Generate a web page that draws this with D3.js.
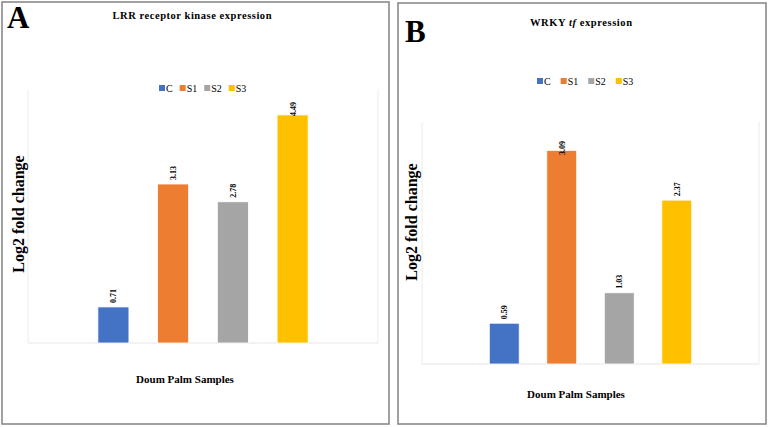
<!DOCTYPE html>
<html>
<head>
<meta charset="utf-8">
<script src="https://cdn.jsdelivr.net/npm/d3@7"></script>
<style>
  body { margin: 0; background: #fff; }
  svg { display: block; }
  text { font-family: "Times New Roman", Times, "Liberation Serif", serif; fill: #000; }
</style>
</head>
<body>
<svg id="chart" width="769" height="427"></svg>
<script>
// Data
var series     = ["C", "S1", "S2", "S3"];
var colors     = ["#4472C4", "#ED7D31", "#A5A5A5", "#FFC000"];
var lrrValues  = [0.71, 3.13, 2.78, 4.49];
var wrkyValues = [0.59, 3.09, 1.03, 2.37];
var lrrMax     = 5;
var wrkyMax    = 3.5;
var yTitle     = "Log2 fold change";
var xTitle     = "Doum Palm Samples";

// Panel layouts
var panels = [
  {
    letter: "A", title: [{ t: "LRR receptor kinase expression" }], titleW: 159,
    values: lrrValues, yMax: lrrMax,
    box: { x: 2, y: 2, w: 387, h: 422 },
    plot: { left: 28, right: 378, top: 89, bottom: 343 },
    titleX: 192, titleY: 19, letterX: 7, letterY: 28,
    legendX: 159, legendY: 88, legendGap: 7,
    yTitleX: 18, yTitleY: 214, xTitleX: 185, xTitleY: 383,
    labelMinY: 101
  },
  {
    letter: "B", title: [{ t: "WRKY " }, { t: "tf", italic: true }, { t: " expression" }], titleW: 102,
    values: wrkyValues, yMax: wrkyMax,
    box: { x: 398, y: 3, w: 368, h: 421 },
    plot: { left: 422, right: 759, top: 122, bottom: 364 },
    titleX: 581, titleY: 26, letterX: 405, letterY: 42,
    legendX: 537, legendY: 81, legendGap: 10,
    yTitleX: 411, yTitleY: 222, xTitleX: 576, xTitleY: 398,
    labelMinY: 140
  }
];

var svg = d3.select("#chart");

panels.forEach(function(p) {
  var g = svg.append("g");

  // Frame
  g.append("rect")
    .attr("x", p.box.x).attr("y", p.box.y)
    .attr("width", p.box.w).attr("height", p.box.h)
    .attr("fill", "#fff").attr("stroke", "#8a8a8a").attr("stroke-width", 1.6);

  // Scales
  var x = d3.scaleBand().domain(series)
    .range([p.plot.left, p.plot.right])
    .paddingInner(0.48).paddingOuter(1.17);
  var y = d3.scaleLinear().domain([0, p.yMax]).range([p.plot.bottom, p.plot.top]);

  // Faint plot area lines
  [p.plot.left, p.plot.right].forEach(function(xx) {
    g.append("line")
      .attr("x1", xx).attr("x2", xx)
      .attr("y1", y(p.yMax)).attr("y2", y(0))
      .attr("stroke", "#ececec").attr("stroke-width", 1);
  });
  g.append("line")
    .attr("x1", p.plot.left).attr("x2", p.plot.right)
    .attr("y1", y(0)).attr("y2", y(0))
    .attr("stroke", "#e6e6e6").attr("stroke-width", 1);

  // Bars
  var data = series.map(function(s, i) { return { s: s, v: p.values[i], c: colors[i] }; });
  g.selectAll("rect.bar").data(data).enter().append("rect")
    .attr("class", "bar")
    .attr("x", function(d) { return x(d.s); })
    .attr("width", x.bandwidth())
    .attr("y", function(d) { return y(d.v); })
    .attr("height", function(d) { return y(0) - y(d.v); })
    .attr("fill", function(d) { return d.c; })
    .attr("stroke", "#fff").attr("stroke-width", 0.8);

  // Data labels, rotated
  g.selectAll("text.lbl").data(data).enter().append("text")
    .attr("class", "lbl")
    .attr("transform", function(d) {
      var end = Math.max(y(d.v) - 4, p.labelMinY + 15);
      return "translate(" + (x(d.s) + x.bandwidth() / 2 + 3) + "," + end + ") rotate(-90)";
    })
    .attr("text-anchor", "start")
    .attr("font-size", 8).attr("font-weight", "bold")
    .text(function(d) { return d.v.toFixed(2); });

  // Panel letter
  g.append("text")
    .attr("x", p.letterX).attr("y", p.letterY)
    .attr("font-size", 31).attr("font-weight", "bold")
    .text(p.letter);

  // Title
  var t = g.append("text")
    .attr("x", p.titleX).attr("y", p.titleY)
    .attr("text-anchor", "middle")
    .attr("font-size", 10.5).attr("font-weight", "bold")
    .attr("textLength", p.titleW).attr("lengthAdjust", "spacing");
  p.title.forEach(function(part) {
    t.append("tspan").attr("font-style", part.italic ? "italic" : "normal").text(part.t);
  });

  // Legend
  var lx = p.legendX;
  series.forEach(function(s, i) {
    g.append("rect")
      .attr("x", lx).attr("y", p.legendY - 3)
      .attr("width", 6).attr("height", 6)
      .attr("fill", colors[i]);
    var lt = g.append("text")
      .attr("x", lx + 7).attr("y", p.legendY + 3.5)
      .attr("font-size", 10)
      .text(s);
    lx += 7 + lt.node().getComputedTextLength() + p.legendGap;
  });

  // Axis titles
  g.append("text")
    .attr("transform", "translate(" + p.yTitleX + "," + p.yTitleY + ") rotate(-90)")
    .attr("text-anchor", "middle").attr("dominant-baseline", "central")
    .attr("font-size", 16).attr("font-weight", "bold")
    .text(yTitle);
  g.append("text")
    .attr("x", p.xTitleX).attr("y", p.xTitleY)
    .attr("text-anchor", "middle")
    .attr("font-size", 11).attr("font-weight", "bold")
    .text(xTitle);
});
</script>
</body>
</html>
